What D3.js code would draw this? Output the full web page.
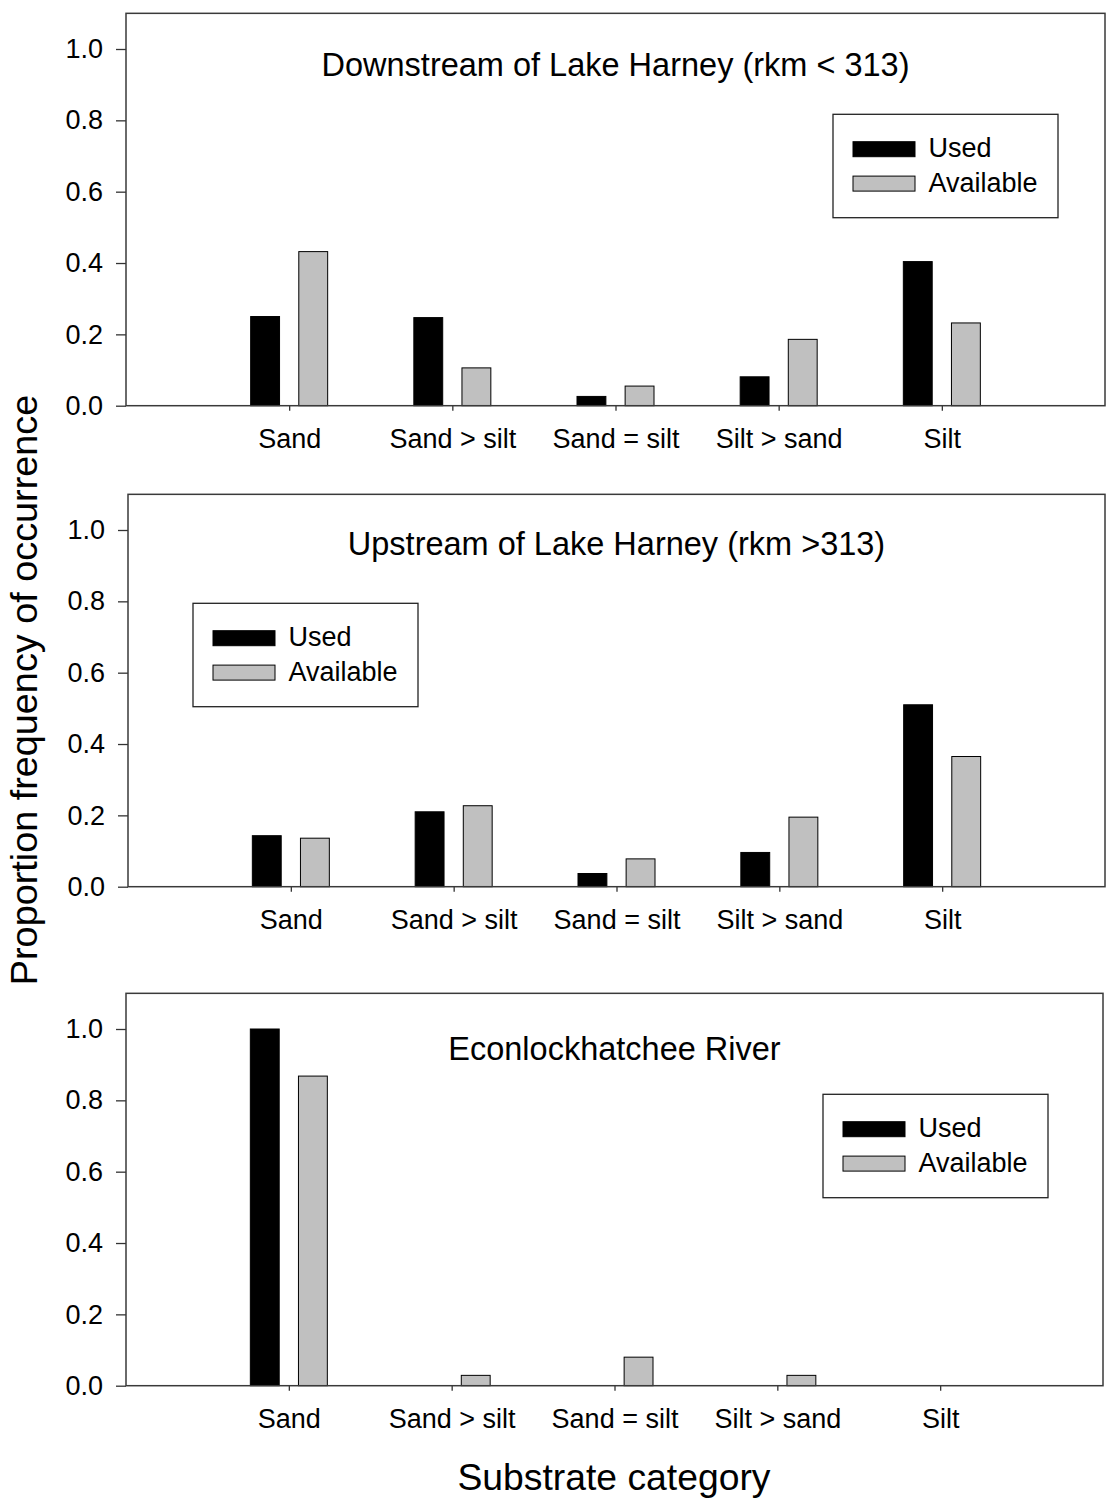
<!DOCTYPE html>
<html>
<head>
<meta charset="utf-8">
<script src="https://cdn.jsdelivr.net/npm/d3@7"></script>
<style>
  html, body { margin: 0; padding: 0; background: #fff; }
  svg { display: block; font-family: "Liberation Sans", Arial, sans-serif; }
</style>
</head>
<body>
<svg id="chart" width="1110" height="1500"></svg>
<script>
// Substrate categories along the x axis
const categories = ["Sand", "Sand > silt", "Sand = silt", "Silt > sand", "Silt"];
const seriesNames = ["Used", "Available"];
const yTickValues = [0.0, 0.2, 0.4, 0.6, 0.8, 1.0];

// Proportion frequency of occurrence per panel
const downstreamUsed      = [0.250, 0.247, 0.026, 0.081, 0.404];
const downstreamAvailable = [0.432, 0.106, 0.055, 0.186, 0.232];
const upstreamUsed        = [0.143, 0.210, 0.037, 0.096, 0.510];
const upstreamAvailable   = [0.136, 0.227, 0.078, 0.195, 0.365];
const econUsed            = [1.000, 0.000, 0.000, 0.000, 0.000];
const econAvailable       = [0.868, 0.029, 0.080, 0.029, 0.000];

const panelTitles = [
  "Downstream of Lake Harney (rkm < 313)",
  "Upstream of Lake Harney (rkm >313)",
  "Econlockhatchee River"
];

const xTitle = "Substrate category";
const yTitle = "Proportion frequency of occurrence";

// Panel geometry (pixel layout)
const panels = [
  { title: panelTitles[0], used: downstreamUsed, available: downstreamAvailable,
    left: 126, right: 1105, zero: 405.7, titleBase: 76,
    legend: { x: 833, y: 114.3 } },
  { title: panelTitles[1], used: upstreamUsed, available: upstreamAvailable,
    left: 128, right: 1105, zero: 886.7, titleBase: 555,
    legend: { x: 193, y: 603.3 } },
  { title: panelTitles[2], used: econUsed, available: econAvailable,
    left: 126, right: 1103, zero: 1385.7, titleBase: 1060,
    legend: { x: 823, y: 1094.3 } }
];

const unitPx = 356.7;            // pixels per 1.0 on the y axis
const fills = { Used: "#000000", Available: "#c0c0c0" };
const tickFont = 27;

const svg = d3.select("#chart");

panels.forEach(p => {
  const g = svg.append("g");

  const x = d3.scalePoint()
    .domain(categories)
    .range([p.left, p.right])
    .padding(1);

  const sub = d3.scaleBand()
    .domain(seriesNames)
    .range([-38.5, 38.5])
    .paddingInner(0.4)
    .paddingOuter(0);

  const y = d3.scaleLinear()
    .domain([0, 1.1])
    .range([p.zero, p.zero - 1.1 * unitPx]);

  // bars
  const rows = [];
  categories.forEach((c, i) => {
    rows.push({ cat: c, series: "Used", value: p.used[i] });
    rows.push({ cat: c, series: "Available", value: p.available[i] });
  });

  g.selectAll("rect.bar")
    .data(rows.filter(d => d.value > 0))
    .join("rect")
    .attr("class", "bar")
    .attr("x", d => x(d.cat) + sub(d.series))
    .attr("width", sub.bandwidth())
    .attr("y", d => y(d.value))
    .attr("height", d => y(0) - y(d.value))
    .attr("fill", d => fills[d.series])
    .attr("stroke", "#000")
    .attr("stroke-width", 1);

  // y axis
  const yAxis = g.append("g")
    .attr("transform", `translate(${p.left},0)`)
    .call(d3.axisLeft(y).tickValues(yTickValues).tickFormat(d3.format(".1f"))
      .tickSize(10).tickSizeOuter(0).tickPadding(13));
  yAxis.select(".domain").remove();
  yAxis.selectAll(".tick line").attr("stroke", "#333").attr("stroke-width", 1.3);
  yAxis.selectAll(".tick text")
    .attr("font-size", tickFont)
    .attr("font-family", "Liberation Sans, Arial, sans-serif")
    .attr("fill", "#000");

  // x axis
  const xAxis = g.append("g")
    .attr("transform", `translate(0,${p.zero})`)
    .call(d3.axisBottom(x).tickSize(5).tickSizeOuter(0).tickPadding(18.5));
  xAxis.select(".domain").remove();
  xAxis.selectAll(".tick line").attr("stroke", "#333").attr("stroke-width", 1.3);
  xAxis.selectAll(".tick text")
    .attr("font-size", tickFont)
    .attr("font-family", "Liberation Sans, Arial, sans-serif")
    .attr("fill", "#000");

  // frame
  g.append("rect")
    .attr("x", p.left)
    .attr("y", y(1.1))
    .attr("width", p.right - p.left)
    .attr("height", y(0) - y(1.1))
    .attr("fill", "none")
    .attr("stroke", "#3a3a3a")
    .attr("stroke-width", 1.5);

  // panel title
  g.append("text")
    .attr("x", (p.left + p.right) / 2)
    .attr("y", p.titleBase)
    .attr("text-anchor", "middle")
    .attr("font-size", 32.5)
    .attr("fill", "#000")
    .text(p.title);

  // legend
  const lg = g.append("g").attr("transform", `translate(${p.legend.x},${p.legend.y})`);
  lg.append("rect")
    .attr("width", 225).attr("height", 103.4)
    .attr("fill", "#fff").attr("stroke", "#222").attr("stroke-width", 1.3);
  const items = lg.selectAll("g.item")
    .data(seriesNames)
    .join("g")
    .attr("class", "item")
    .attr("transform", (d, i) => `translate(20,${27.4 + i * 34.4})`);
  items.append("rect")
    .attr("width", 62).attr("height", 15)
    .attr("fill", d => fills[d])
    .attr("stroke", "#000").attr("stroke-width", 1);
  items.append("text")
    .attr("x", 75.5)
    .attr("y", 15.5)
    .attr("font-size", tickFont)
    .attr("fill", "#000")
    .text(d => d);
});

// shared axis titles
svg.append("text")
  .attr("x", 614)
  .attr("y", 1490)
  .attr("text-anchor", "middle")
  .attr("font-size", 37.3)
  .attr("fill", "#000")
  .text(xTitle);

svg.append("text")
  .attr("transform", "translate(37,690) rotate(-90)")
  .attr("text-anchor", "middle")
  .attr("font-size", 37.8)
  .attr("fill", "#000")
  .text(yTitle);
</script>
</body>
</html>
